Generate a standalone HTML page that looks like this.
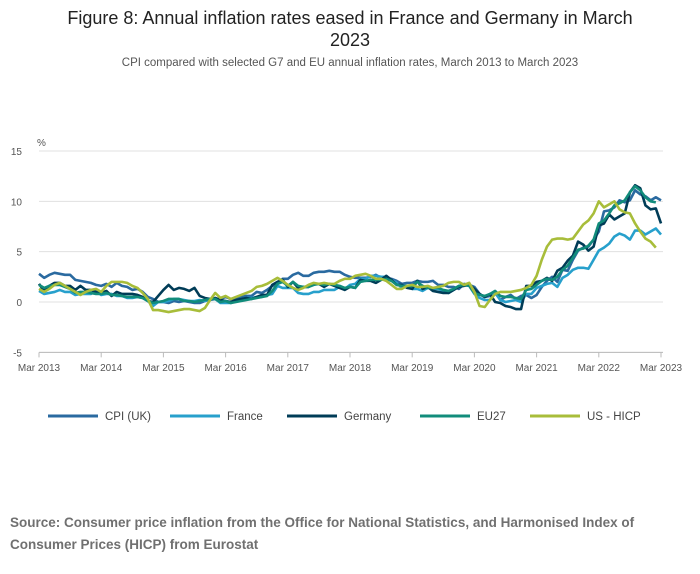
<!DOCTYPE html>
<html><head><meta charset="utf-8"><style>
body{margin:0;background:#fff;font-family:"Liberation Sans",sans-serif;}
#wrap{position:relative;width:700px;height:574px;overflow:hidden;}
.t{position:absolute;left:0;width:700px;text-align:center;}
</style></head><body>
<div id="wrap">
<div class="t" style="top:7px;font-size:18px;color:#222;line-height:22px;">Figure 8: Annual inflation rates eased in France and Germany in March<br>2023</div>
<div class="t" style="top:57px;font-size:11.5px;color:#555;">CPI compared with selected G7 and EU annual inflation rates, March 2013 to March 2023</div>
<svg id="chart" width="700" height="574" style="position:absolute;left:0;top:0"></svg>
<div style="position:absolute;left:10px;top:512px;width:685px;font-size:13.5px;font-weight:bold;color:#707070;line-height:22px;">Source: Consumer price inflation from the Office for National Statistics, and Harmonised Index of Consumer Prices (HICP) from Eurostat</div>
</div>
<script>
const xTickLabels=["Mar 2013","Mar 2014","Mar 2015","Mar 2016","Mar 2017","Mar 2018","Mar 2019","Mar 2020","Mar 2021","Mar 2022","Mar 2023"];
const yTicks=[15,10,5,0,-5];
const seriesNames=["CPI (UK)","France","Germany","EU27","US - HICP"];
const seriesColors=["#2a6aa0","#27a0cc","#003c57","#118c7b","#a8bd3a"];
const cpiUK=[2.8,2.4,2.7,2.9,2.8,2.7,2.7,2.2,2.1,2.0,
1.9,1.7,1.6,1.8,1.5,1.9,1.6,1.5,1.2,1.3,1.0,0.5,
0.3,0.0,0.0,-0.1,0.1,0.0,0.1,0.0,-0.1,-0.1,0.1,0.2,
0.3,0.3,0.5,0.3,0.3,0.5,0.6,0.6,1.0,0.9,1.2,1.6,
1.8,2.3,2.3,2.7,2.9,2.6,2.6,2.9,3.0,3.0,3.1,3.0,
3.0,2.7,2.5,2.4,2.4,2.4,2.5,2.7,2.4,2.4,2.3,2.1,
1.8,1.9,1.9,2.1,2.0,2.0,2.1,1.7,1.7,1.5,1.5,1.3,
1.8,1.7,1.5,0.8,0.5,0.6,1.0,0.2,0.5,0.7,0.3,0.6,
0.7,0.4,0.7,1.5,2.1,2.5,2.0,3.2,3.1,4.2,5.1,5.4,
5.5,6.2,7.0,9.0,9.1,9.4,10.1,9.9,10.1,11.1,10.7,10.5,
10.1,10.4,10.1];
const france=[1.1,0.8,0.9,1.0,1.2,1.0,1.0,0.7,0.8,0.8,
0.8,1.1,0.7,0.8,0.8,0.6,0.6,0.4,0.4,0.5,0.4,0.1,
-0.4,0.0,0.0,0.1,0.3,0.3,0.2,0.1,0.1,0.2,0.1,0.3,
0.3,-0.1,-0.1,-0.1,0.1,0.3,0.4,0.4,0.5,0.5,0.7,0.8,
1.6,1.4,1.4,1.4,0.9,0.8,0.8,1.0,1.0,1.2,1.2,1.2,
1.5,1.3,1.7,1.8,2.3,2.3,2.6,2.6,2.5,2.5,2.2,1.9,
1.4,1.6,1.3,1.3,1.1,1.4,1.3,1.3,1.1,0.9,1.2,1.6,
1.7,1.6,0.8,0.4,0.2,0.2,0.9,0.2,0.0,0.1,0.2,0.0,
0.8,0.8,1.4,1.6,1.8,1.9,1.5,2.4,2.7,3.2,3.4,3.4,
3.3,4.2,5.1,5.4,5.8,6.5,6.8,6.6,6.2,7.1,7.1,6.7,
7.0,7.3,6.7];
const germany=[1.8,1.1,1.6,1.9,1.9,1.6,1.6,1.2,1.6,1.2,
1.2,1.0,0.9,1.1,0.6,1.0,0.8,0.8,0.8,0.7,0.5,0.1,
0.0,0.6,1.2,1.7,1.2,1.4,1.3,1.1,1.4,0.6,0.4,0.3,
0.4,0.2,0.1,0.0,0.2,0.3,0.4,0.3,0.5,0.7,0.7,1.7,
2.0,2.2,1.5,2.0,1.4,1.5,1.5,1.8,1.8,1.5,1.8,1.6,
1.4,1.2,1.5,1.4,2.2,2.1,2.1,1.9,2.2,2.6,2.2,1.7,
1.7,1.4,1.3,2.1,1.3,1.5,1.1,1.0,0.9,0.9,1.2,1.5,
1.6,1.7,1.3,0.8,0.5,0.8,0.0,-0.1,-0.4,-0.5,-0.7,-0.7,
1.6,1.6,2.0,2.1,2.4,2.1,3.1,3.4,4.1,4.6,6.0,5.7,
5.1,5.5,7.6,7.8,8.7,8.2,8.5,8.8,10.9,11.6,11.3,9.6,
9.2,9.3,7.8];
const eu27=[1.7,1.4,1.6,1.7,1.7,1.5,1.3,0.9,1.0,1.0,
0.9,0.8,0.8,0.9,0.7,0.7,0.6,0.5,0.5,0.5,0.4,0.1,
-0.1,0.0,0.1,0.3,0.3,0.3,0.1,0.1,0.0,0.1,0.2,0.3,
0.3,0.0,0.1,-0.1,0.0,0.1,0.2,0.3,0.4,0.5,0.6,1.1,
1.8,2.0,1.6,2.0,1.6,1.5,1.5,1.7,1.8,1.7,1.8,1.7,
1.6,1.4,1.5,1.4,2.0,2.1,2.2,2.2,2.2,2.3,2.1,1.7,
1.6,1.6,1.6,2.0,1.6,1.4,1.4,1.4,1.2,1.1,1.3,1.6,
1.7,1.6,0.9,0.7,0.6,0.8,1.1,0.6,0.5,0.5,0.4,0.3,
1.2,1.3,1.7,2.1,2.3,2.2,2.5,3.2,3.6,4.4,5.2,5.3,
5.6,6.2,7.8,8.1,8.8,9.6,9.8,10.1,10.9,11.5,11.1,10.4,
10.0,9.9];
const usHicp=[1.3,1.0,1.3,1.7,1.9,1.6,1.3,1.0,0.7,1.0,
1.2,1.3,1.0,1.6,2.0,2.0,2.0,1.9,1.6,1.4,0.9,0.3,
-0.8,-0.8,-0.9,-1.0,-0.9,-0.8,-0.7,-0.7,-0.8,-0.9,-0.6,0.2,
0.9,0.4,0.6,0.3,0.5,0.7,0.9,1.1,1.5,1.6,1.8,2.1,
2.4,2.1,1.7,1.4,1.2,1.4,1.7,1.9,1.8,1.9,1.8,1.8,
2.1,2.3,2.3,2.6,2.7,2.8,2.6,2.3,2.3,2.1,1.7,1.3,
1.3,1.6,1.7,1.5,1.5,1.6,1.4,1.5,1.6,1.9,2.0,2.0,
1.7,1.9,1.0,-0.4,-0.5,0.2,0.8,1.0,1.0,1.0,1.1,1.2,
1.4,1.7,2.6,4.2,5.5,6.2,6.3,6.3,6.2,6.3,7.0,7.7,
8.1,8.8,10.0,9.4,9.7,10.0,9.2,8.9,8.8,7.8,7.0,6.3,
6.0,5.4];
const allSeries=[cpiUK,france,germany,eu27,usHicp];

const NS="http://www.w3.org/2000/svg";
const svg=document.getElementById('chart');
const X0=39,X1=661,Y15=151,Y0=302;
const nMonths=120;
function xScale(m){return X0+(X1-X0)*m/nMonths;}
function yScale(v){return Y0-(Y0-Y15)*v/15;}
function mk(tag,attrs){const e=document.createElementNS(NS,tag);for(const k in attrs)e.setAttribute(k,attrs[k]);svg.appendChild(e);return e;}

yTicks.forEach(v=>{
  const g=mk('line',{x1:X0,x2:X1+2,y1:yScale(v),y2:yScale(v),stroke:'#e0e0e0','stroke-width':1});
  
  
  const t=mk('text',{x:22,y:yScale(v)+4,'text-anchor':'end','font-size':10,fill:'#555','font-family':'Liberation Sans, sans-serif'});
  t.textContent=v;
  
  
});
const pct=mk('text',{x:37,y:146,'font-size':10,fill:'#555','font-family':'Liberation Sans, sans-serif'});
pct.textContent='%';


const ax=mk('line',{x1:X0,x2:X1+2,y1:yScale(-5),y2:yScale(-5),stroke:'#bbb','stroke-width':1});


xTickLabels.forEach((l,i)=>{
  const x=xScale(i*12);
  const tk=mk('line',{x1:x,x2:x,y1:yScale(-5),y2:yScale(-5)+5,stroke:'#bbb'});
  
  
  const t=mk('text',{x:x,y:371,'text-anchor':'middle','font-size':10,fill:'#555','font-family':'Liberation Sans, sans-serif'});
  t.textContent=l;
  
  
});
allSeries.forEach((s,i)=>{
  const d=s.map((v,m)=>(m?'L':'M')+xScale(m).toFixed(2)+' '+yScale(v).toFixed(2)).join(' ');
  const p=mk('path',{d:d,fill:'none',stroke:seriesColors[i],'stroke-width':2.6,'stroke-linejoin':'round'});
  
  
});
const legX=[48,170,287,420,530];
seriesNames.forEach((n,i)=>{
  const l=mk('line',{x1:legX[i],x2:legX[i]+50,y1:416,y2:416,stroke:seriesColors[i],'stroke-width':3});
  
  
  const t=mk('text',{x:legX[i]+57,y:420,'font-size':11.5,fill:'#444','font-family':'Liberation Sans, sans-serif'});
  t.textContent=n;
  
  
});
</script>
</body></html>
